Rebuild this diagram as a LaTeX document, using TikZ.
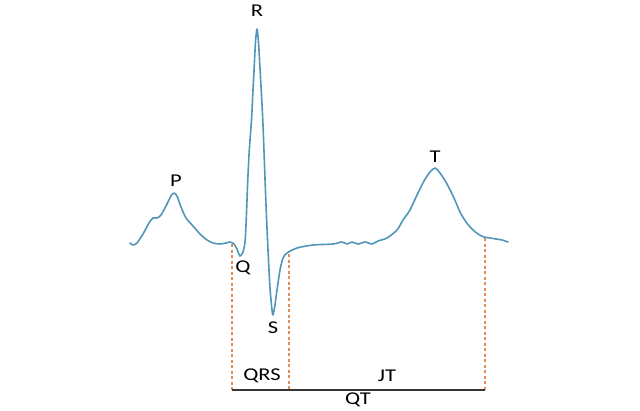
\documentclass[tikz,border=0pt]{standalone}
\usepackage{fontspec}
\setmainfont{Carlito}
\definecolor{ecg}{RGB}{80,150,185}
\definecolor{dash}{RGB}{228,140,90}
\definecolor{axis}{RGB}{55,55,55}
\newcommand{\wlbl}[1]{\scalebox{1.25}[1]{#1}}
\begin{document}
\begin{tikzpicture}[x=1pt,y=-1pt,
  lbl/.style={font=\fontsize{18}{20}\selectfont, text=black, inner sep=0pt},
  guide/.style={draw=dash, line width=1.1pt, dash pattern=on 3pt off 2.5pt},
  wave/.style={draw=ecg, line width=1.6pt, line join=round, line cap=round}]
\useasboundingbox (0,0) rectangle (640,410);
\draw[wave] plot[smooth, tension=0.45] coordinates {
(130,243) (133,245) (137,243) (143,234) (149,223) (153,218) (157,218) (161,215)
(166,206) (171,196) (174,193) (177,196) (181,207) (186,218) (193,226) (200,234)
(207,240) (213,243) (220,244) (226,243) (230,242) (234,244) (237,249) (240,256)
(243,252) (245,242) (246,225) (247,200) (248,175) (249,155) (250,140) (251.5,120)
(253,90) (254.3,65) (255.5,42) (257,29) (258.5,42) (259.8,65) (261.5,95) (263,125)
(264.5,165) (266,205) (268,250) (270,288)
(272,310) (273,315) (275,305) (277,290) (280,270) (283,258) (287,253) (297,248)
(313,245) (333,244) (342,242) (347,244) (352,242) (358,244) (365,242) (372,244)
(378,241) (387,238) (397,230) (403,220) (410,210) (417,195) (424,181) (430,172)
(435,168) (440,173) (447,184) (454,198) (460,212) (466,222) (472,229) (478,234)
(484,237) (490,238) (496,239) (502,240) (508,242)};
\coordinate (q1) at (232,244);
\coordinate (q2) at (232,390);
\coordinate (j1) at (289,254);
\coordinate (j2) at (289,390);
\coordinate (t1) at (485,238);
\coordinate (t2) at (485,390);
\draw[guide] (q1) -- (q2);
\draw[guide] (j1) -- (j2);
\draw[guide] (t1) -- (t2);
\draw[draw=axis, line width=1.3pt] (q2) -- (t2);
\node[lbl] (P) at (176,181) {\wlbl{P}};
\node[lbl] (R) at (257,11) {\wlbl{R}};
\node[lbl] (Q) at (243,268) {\wlbl{Q}};
\node[lbl] (S) at (273,328) {\wlbl{S}};
\node[lbl] (T) at (435,157) {\wlbl{T}};
\node[lbl] (QRS) at (262,376) {\wlbl{QRS}};
\node[lbl] (JT) at (387,376) {\wlbl{JT}};
\node[lbl] (QT) at (358,400) {\wlbl{QT}};
\end{tikzpicture}
\end{document}
